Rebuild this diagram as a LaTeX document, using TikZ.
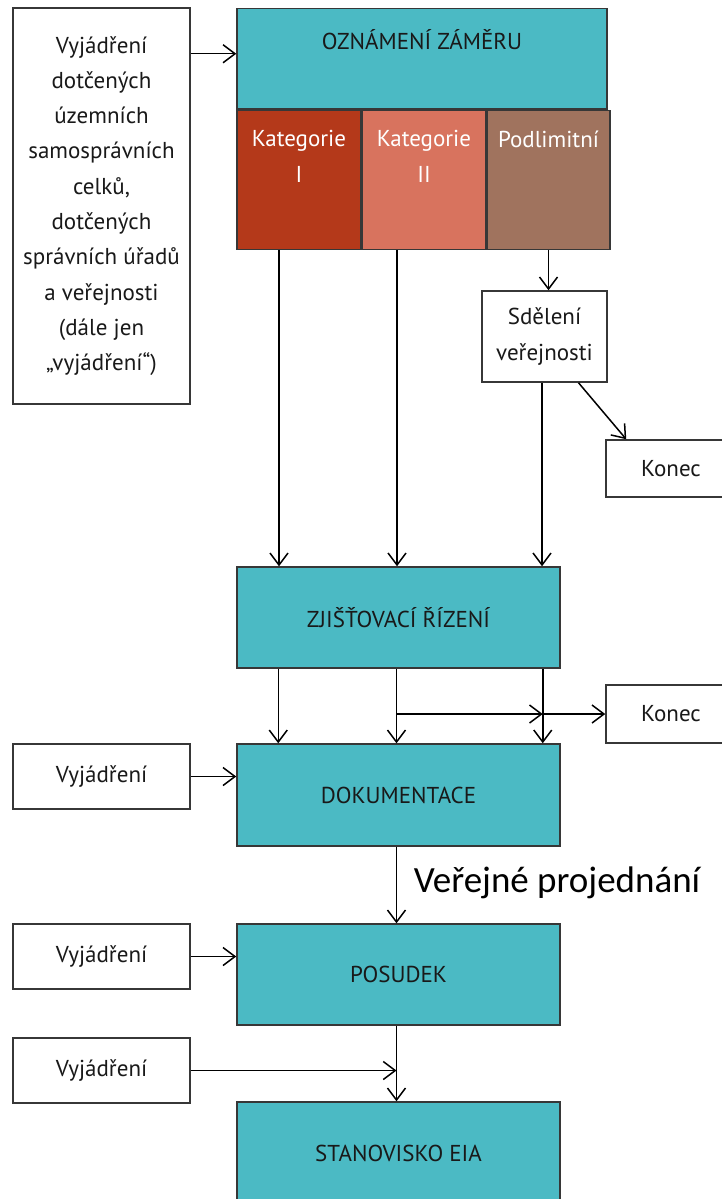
\documentclass[tikz,border=0pt]{standalone}
\usepackage{fontspec}
\setmainfont{PT Sans}
\newfontfamily\calibrifont{Carlito}
\usepackage{xcolor}
\usepackage{tikz}
\usetikzlibrary{arrows.meta,positioning}

\definecolor{eiateal}{RGB}{75,186,196}
\definecolor{katone}{RGB}{180,57,26}
\definecolor{kattwo}{RGB}{216,115,94}
\definecolor{podlim}{RGB}{160,115,94}
\definecolor{boxline}{RGB}{55,55,55}

\begin{document}
\begin{tikzpicture}[x=1pt, y=-1pt, line width=1.5pt, >={Straight Barb[length=12pt,width=18pt]},
    every node/.style={font=\fontsize{23}{35.3}\selectfont, inner sep=0pt, text=black!90},
    whitebox/.style={draw=boxline, rectangle, fill=white},
    tealbox/.style={draw=boxline, rectangle, fill=eiateal, minimum width=323pt},
    katbox/.style={draw=boxline, rectangle, text=white, align=center}]
    \useasboundingbox (0,0) rectangle (721,1199);

    % Vyjadreni (left column)
    \node[whitebox, minimum width=177pt, minimum height=396pt, align=center] (vyjall) at (101.5,206) {Vyjádření\\dotčených\\územních\\samosprávních\\celků,\\dotčených\\správních úřadů\\a veřejnosti\\(dále jen\\„vyjádření“)};

    % Oznameni zameru
    \node[tealbox, anchor=north, minimum width=370pt, text height=41pt, text depth=59pt] (ozn) at (422,8) {OZNÁMENÍ ZÁMĚRU};

    % Kategorie
    \node[katbox, fill=katone, anchor=north west, minimum width=124pt, text height=72pt, text depth=67pt] (kat1) at (ozn.south west) {Kategorie\\I};
    \node[katbox, fill=kattwo, right=0pt of kat1, minimum width=123pt, text height=72pt, text depth=67pt] (kat2) {Kategorie\\II};
    \node[katbox, fill=podlim, right=0pt of kat2, minimum width=123pt, text height=37pt, text depth=102pt] (pod) {Podlimitní};

    % Sdeleni verejnosti + Konec
    \node[whitebox, minimum width=125pt, minimum height=91pt, align=center] (sdel) at (544.5,336.5) {Sdělení\\veřejnosti};
    \node[whitebox, minimum width=130pt, minimum height=57pt] (kon1) at (671,468.5) {Konec};

    % Zjistovaci rizeni
    \node[tealbox, minimum height=101pt] (zjist) at (398.5,617.5) {ZJIŠŤOVACÍ ŘÍZENÍ};
    \node[whitebox, minimum width=130pt, minimum height=58pt] (kon2) at (671,714) {Konec};

    % Dokumentace
    \node[tealbox, minimum height=102pt] (dok) at (398.5,795) {DOKUMENTACE};
    \node[whitebox, minimum width=177pt, minimum height=65pt] (vyj1) at (101.5,776.5) {Vyjádření};
    \node[anchor=west, font=\calibrifont\fontsize{37}{42}\selectfont, text=black] (verejne) at (413,883) {Veřejné projednání};

    % Posudek
    \node[tealbox, minimum height=101pt] (pos) at (398.5,974.5) {POSUDEK};
    \node[whitebox, minimum width=177pt, minimum height=65pt] (vyj2) at (101.5,956.5) {Vyjádření};
    \node[whitebox, minimum width=177pt, minimum height=65pt] (vyj3) at (101.5,1070.5) {Vyjádření};

    % Stanovisko
    \node[tealbox, minimum height=102pt] (stan) at (398.5,1153) {STANOVISKO EIA};

    % arrows
    \draw[->] ([yshift=5pt]ozn.west -| vyjall.east) -- ([yshift=5pt]ozn.west);
    \draw[->] ([xshift=-20pt]kat1.south) -- ([xshift=-20pt]kat1.south |- zjist.north);
    \draw[->] ([xshift=-27pt]kat2.south) -- ([xshift=-27pt]kat2.south |- zjist.north);
    \draw[->] (pod.south) -- (pod.south |- sdel.north);
    \draw[->] ([xshift=-2.5pt]sdel.south) -- ([xshift=-2.5pt]sdel.south |- zjist.north);
    \draw[->] ([xshift=34pt]sdel.south) -- ([xshift=21pt]kon1.north west);

    \draw[->] ([xshift=42pt]zjist.south west) -- ([xshift=42pt]dok.north west);
    \draw[->] ([xshift=-2pt]zjist.south) -- ([xshift=-2pt]dok.north);
    \draw[->] ([xshift=-18pt]zjist.south east) -- ([xshift=-18pt]dok.north east);
    \draw[->] ([xshift=-2pt]zjist.south |- kon2.west) -- ([xshift=-18pt]zjist.south east |- kon2.west);
    \draw[->] ([xshift=-18pt]zjist.south east |- kon2.west) -- (kon2.west);

    \draw[->] (vyj1.east) -- (vyj1.east -| dok.west);
    \draw[->] ([xshift=-2pt]dok.south) -- ([xshift=-2pt]pos.north);
    \draw[->] (vyj2.east) -- (vyj2.east -| pos.west);
    \draw[->] ([xshift=-2pt]pos.south) -- ([xshift=-2pt]stan.north);
    \draw[->] (vyj3.east) -- ([xshift=-2pt]pos.south |- vyj3.east);
\end{tikzpicture}
\end{document}
